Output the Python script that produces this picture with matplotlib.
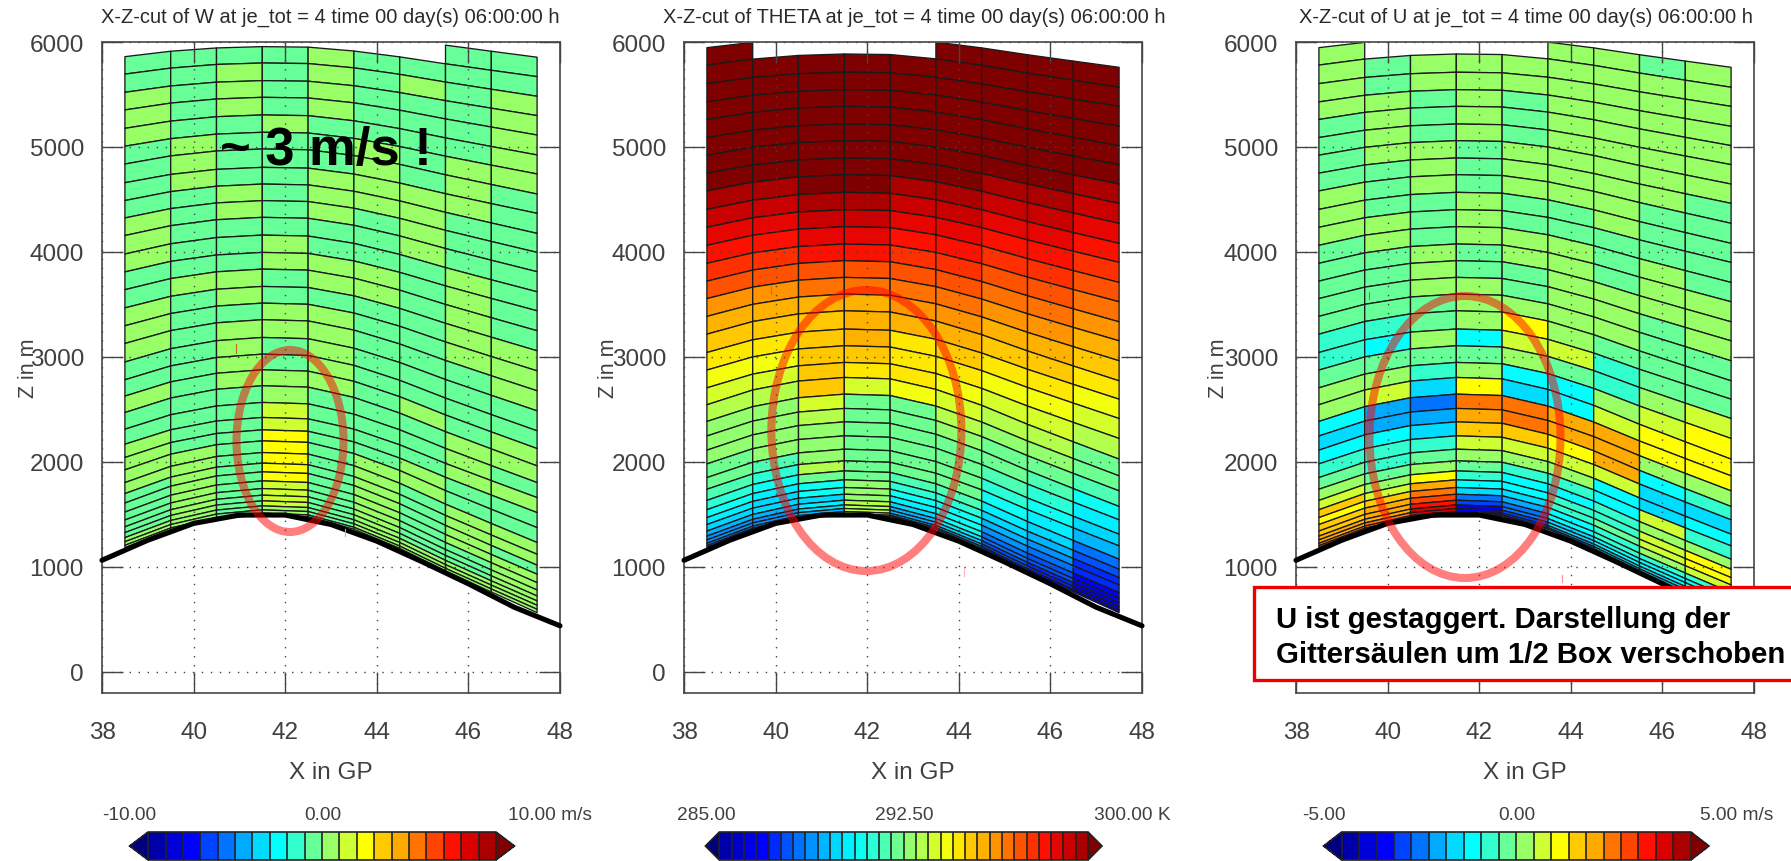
import numpy as np
import matplotlib
matplotlib.use("Agg")
import matplotlib.pyplot as plt
from matplotlib.collections import PolyCollection
from matplotlib.colors import BoundaryNorm, LinearSegmentedColormap, ListedColormap
from matplotlib.patches import Ellipse, Rectangle
from matplotlib.transforms import IdentityTransform

W, H = 1791, 862
plt.rcParams["font.family"] = ["Liberation Sans", "DejaVu Sans"]

# grid geometry (m)
edge_x = [38.5, 39.5, 40.5, 41.5, 42.5, 43.5, 44.5, 45.5, 46.5, 47.5]
edge_terrain = [1185, 1353, 1455, 1496, 1480, 1360, 1178, 962, 762, 565]
terrain_x = [38, 39, 40, 41, 42, 43, 44, 45, 46, 47, 48]
terrain_z = [1064, 1255, 1415, 1495, 1495, 1405, 1246, 1048, 840, 617, 440]

w_crest = [6125, 5956, 5800, 5632, 5473, 5305, 5140, 4981, 4806, 4647, 4489, 4330, 4161, 3996,
           3837, 3672, 3513, 3355, 3186, 3027, 2878, 2726, 2567, 2424, 2306, 2201, 2090, 1989,
           1906, 1820, 1747, 1684, 1630, 1582, 1544, 1512, 1496]
w_right = [5855, 5670, 5483, 5299, 5114, 4924, 4743, 4552, 4368, 4177, 3996, 3812, 3621, 3440,
           3250, 3059, 2868, 2678, 2487, 2297, 2128, 1963, 1804, 1661, 1518, 1375, 1233, 1121,
           1017, 931, 851, 781, 724, 677, 635, 597, 565]
mass_crest = [6040, 5886, 5712, 5546, 5387, 5219, 5060, 4895, 4736, 4568, 4403, 4241, 4076, 3917,
              3758, 3599, 3440, 3266, 3107, 2948, 2805, 2646, 2510, 2382, 2249, 2122, 2011, 1915,
              1830, 1757, 1693, 1636, 1591, 1557, 1528, 1509, 1496]
mass_right = [5759, 5569, 5387, 5197, 5013, 4832, 4647, 4463, 4273, 4082, 3901, 3710, 3526, 3335,
              3154, 2964, 2773, 2598, 2414, 2224, 2027, 1868, 1725, 1576, 1449, 1312, 1201, 1074,
              978, 899, 829, 756, 702, 661, 623, 591, 565]

# colour-bin letter per cell, one string per column (x = 39..47), top layer first
bin_letters = "abcdefghijklmnopqrstuvwxyzABCD"
w_cols = [
    "jjjkkkjjjjkkkjjkkkjjkjjkkkkjjjjjjkkk",
    "jjjjjjkkkjjjjjkjjjjjjjjjjkkkkkkkkkkk",
    "jjkkkjjjjkkjjjkkjkkkkjjjjjjjjjjjjjjj",
    "jjjjjkjjjjjjkkjjkkjjkkllmmmmmllllkkk",
    "kkkkkjjjkkkjjkkjkkkkkjjjjjjjjjjjjjjj",
    "jjjjjjkkkkjjjkkjjjjjjjjjjkkkkkkkkkkk",
    "jjkjjjjjkkkkjjjjjjjjkjjjkkjjjjjjjkkk",
    "jjjjjjkkkjjjkkkkkjjjjkkkjjkkkkjjjkkk",
    "jjkkkkkjjjjjjjjkkkjjkkjkjjkkjkkkkkkk",
]
theta_cols = [
    ">>>>>>>>DCBAzywvutsrqpppoonmlkjihhgf",
    ">>>>>>>>DCBAzywvutsrqppppnmlkjjihhgg",
    ">>>>>>>>>DCBAyxvuuuuurqpppqolljkjihh",
    ">>>>>>>>>DCBAyxvvvutrooooooopppqqqrr",
    ">>>>>>>>DCBAzyxwvtttsoooooonmlkjiihg",
    ">>>>>>>>DCBAzyxwvutsrqpoooonmlllkjih",
    ">>>>>>>DCBAzyxwvutsrqpoonmlkjihggffe",
    ">>>>>>>DCBAzyxwvutsrqponmlkjihgffeed",
    ">>>>>>DCBAzyxwvutsrqoonlkjigfeeddccb",
]
u_cols = [
    "kkkkjjjjkkkjjjjjiijkkhghijklnmnnoopp",
    "kjjkkkkjjjkkjjjjihjklffhiijklnoooppq",
    "kkkjjjkkkjjjkkkjjkjigefgijkmopqrsstt",
    "kkkkkkjjjkkkjjkkkhjkmponlkjihgedccbb",
    "kkkjjjkkkjjkkjjkmlkhgppnlkihhgfeeddc",
    "kkkkkkkkkjjkkkkkkljhhoomlkihiihhggfe",
    "kkkkkkkkkkjjjkkkjiiklooolhhiijiihhgg",
    "jkkkkkkkjjjkkkjjjjklmmkhgglkllkihhgg",
    "kkkkkkkjjjjjkkkjjjlmmmkighikmmlihhhg",
]

w_z_panel = (w_crest, w_right)
mass_panel = (mass_crest, mass_right)
panels = [
    dict(name="W", cols=w_cols, grid=w_z_panel, vmin=-10.0, vmax=10.0, nbin=20, left=102, right=560,
         labels=["-10.00", "0.00", "10.00 m/s"], cb=(129.6, 514.5), tri=20.5, lab=(129, 323, 507.7),
         title_x=330.7, ylabel_x=28, tick_marks=[(236, 345, 354, "#d06030"), (345, 530, 537, "#ff9090")],
         ell=(290, 442, 107, 182)),
    dict(name="THETA", cols=theta_cols, grid=mass_panel, vmin=285.0, vmax=300.0, nbin=30, left=684, right=1142,
         labels=["285.00", "292.50", "300.00 K"], cb=(705.4, 1102), tri=15, lab=(706, 904, 1094.5),
         title_x=913.8, ylabel_x=609, tick_marks=[(771, 287, 295, "#e06030"), (964, 569, 577, "#ffb0b0")],
         ell=(866.4, 431.5, 190, 281)),
    dict(name="U", cols=u_cols, grid=mass_panel, vmin=-5.0, vmax=5.0, nbin=20, left=1296, right=1754,
         labels=["-5.00", "0.00", "5.00 m/s"], cb=(1323.5, 1709), tri=20, lab=(1324, 1517, 1700),
         title_x=1526, ylabel_x=1219, tick_marks=[(1369, 293, 300, "#d06030"), (1562, 576, 583, "#ff9090")],
         ell=(1465, 438, 191, 282)),
]
ramp = ["#0000aa", "#0000dd", "#0000ff", "#0044ff", "#0077ff", "#00aaff", "#00ddff", "#00ffff", "#33ffcc", "#66ff99",
        "#99ff66", "#ccff33", "#ffff00", "#ffcc00", "#ffaa00", "#ff7700", "#ff4400", "#ff1100", "#dd0000", "#aa0000"]
base = LinearSegmentedColormap.from_list("ramp", ramp)
TXT = "#404040"

fig = plt.figure(figsize=(W / 100, H / 100), dpi=100, facecolor="white")


def fx(px):
    return px / W


def fy(py):
    return 1 - py / H


def dxy(x, y):
    return x, H - y


for p in panels:
    n = p["nbin"]
    levels = np.linspace(p["vmin"], p["vmax"], n + 1)
    colors = [base(i / (n - 1)) for i in range(n)]
    cmap = ListedColormap(colors)
    cmap.set_under("#00007f")
    cmap.set_over("#7f0000")
    norm = BoundaryNorm(levels, n)
    ax = fig.add_axes([fx(p["left"]), fy(694), (p["right"] - p["left"]) / W, (694 - 43) / H])
    crest, right = map(np.array, p["grid"])
    ex = np.array(edge_x)
    frac = (max(edge_terrain) - np.array(edge_terrain)) / (max(edge_terrain) - min(edge_terrain))
    polys, vals = [], []
    step = (p["vmax"] - p["vmin"]) / n
    for c, col in enumerate(p["cols"]):
        z0 = crest + (right - crest) * frac[c]
        z1 = crest + (right - crest) * frac[c + 1]
        for k, ch in enumerate(col[:36]):
            if max(z0[k], z1[k]) > 6000:
                continue
            polys.append([(ex[c], z0[k]), (ex[c + 1], z1[k]), (ex[c + 1], z1[k + 1]), (ex[c], z0[k + 1])])
            vals.append(p["vmax"] + step / 2 if ch == ">" else p["vmin"] + (bin_letters.index(ch) + 0.5) * step)
    pc = PolyCollection(polys, array=np.array(vals), cmap=cmap, norm=norm, edgecolors="#1a1a1a", linewidths=0.95)
    ax.add_collection(pc)
    ax.plot(terrain_x, terrain_z, color="black", lw=3.7, clip_on=False, solid_capstyle="round", zorder=4)
    ax.set_xlim(38, 48)
    ax.set_ylim(-200, 6000)
    ax.set_xticks([38, 40, 42, 44, 46, 48])
    ax.set_yticks([0, 1000, 2000, 3000, 4000, 5000, 6000])
    ax.grid(True, color="#444444", ls=(0, (1, 5.5)), lw=1.0, zorder=3)
    ax.set_axisbelow(False)
    ax.tick_params(direction="in", length=15, width=1.0, color="#444444", top=True, right=True,
                   labelsize=17.5, labelcolor=TXT)
    ax.tick_params(axis="x", pad=20)
    ax.tick_params(axis="y", pad=13)
    for s in ax.spines.values():
        s.set_linewidth(1.3)
        s.set_color("#555555")
    ax.set_xlabel("X in GP", fontsize=17.5, color=TXT, va="center")
    ax.xaxis.set_label_coords(0.5, -79 / 651)
    ax.set_ylabel("Z in m", fontsize=15.5, color=TXT, va="center")
    ax.yaxis.set_label_coords((p["ylabel_x"] - p["left"]) / (p["right"] - p["left"]), 0.5)
    fig.text(fx(p["title_x"]), fy(17), "X-Z-cut of %s at je_tot = 4 time 00 day(s) 06:00:00 h" % p["name"],
             ha="center", va="center", fontsize=14.5, color="#2a2a2a")

    # colour bar
    c0, c1 = p["cb"]
    cax = fig.add_axes([fx(c0), fy(861), (c1 - c0) / W, 28 / H])
    cb = fig.colorbar(plt.cm.ScalarMappable(norm=norm, cmap=cmap), cax=cax, orientation="horizontal", extend="both",
                      extendfrac=p["tri"] / (c1 - c0), drawedges=True, ticks=[])
    cb.dividers.set_color("#222222")
    cb.dividers.set_linewidth(1.2)
    cb.outline.set_edgecolor("#222222")
    cb.outline.set_linewidth(1.2)
    for t, tx, ha in zip(p["labels"], p["lab"], ["center", "center", "left"]):
        fig.text(fx(tx), fy(816), t, ha=ha, va="center", fontsize=13.8, color=TXT)

    # hand-drawn annotation overlays
    ex_, ey_, ew_, eh_ = p["ell"]
    fig.add_artist(Ellipse(dxy(ex_, ey_), ew_, eh_, transform=IdentityTransform(), fill=False,
                           edgecolor=(1, 0, 0, 0.5), lw=5.8, zorder=10))
    for mx, m0, m1, mc in p["tick_marks"]:
        fig.add_artist(plt.Line2D([mx, mx], [H - m0, H - m1], transform=IdentityTransform(), color=mc, lw=0.8, zorder=11))

fig.text(fx(220), fy(165), "~ 3 m/s !", fontsize=37.8, fontweight="bold", color="black", ha="left", va="baseline", zorder=12)
fig.add_artist(Rectangle((1254, H - 681), 600, 93, transform=IdentityTransform(), facecolor="white",
                         edgecolor="#ee0000", lw=2.4, zorder=12))
fig.text(fx(1276), fy(628), "U ist gestaggert. Darstellung der", fontsize=21.2, fontweight="bold", color="black", zorder=13)
fig.text(fx(1276), fy(663), "Gittersäulen um 1/2 Box verschoben", fontsize=21.2, fontweight="bold", color="black", zorder=13)

fig.savefig("out.png", dpi=100)
